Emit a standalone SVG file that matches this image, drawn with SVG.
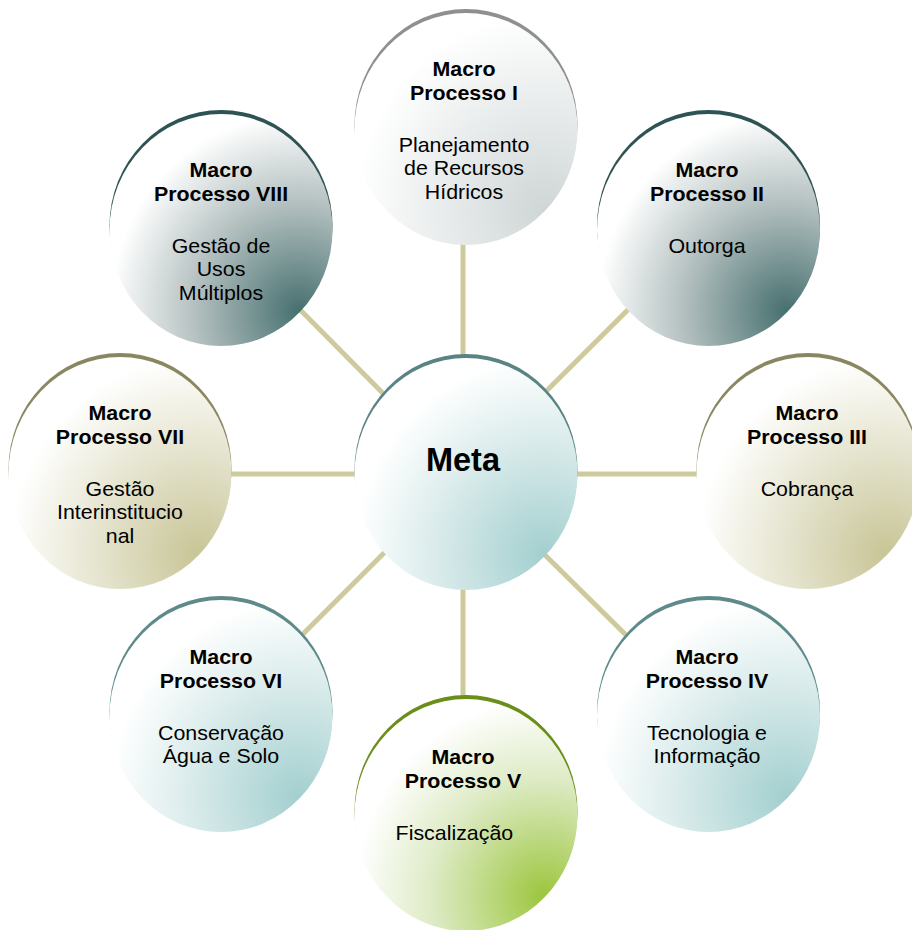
<svg xmlns="http://www.w3.org/2000/svg" width="912" height="930" viewBox="0 0 912 930">
<style>
.t{font-family:"Liberation Sans",Arial,sans-serif;font-size:19.8px;fill:#000;text-anchor:middle}
.b{font-weight:bold}
.meta{font-family:"Liberation Sans",Arial,sans-serif;font-size:32.5px;font-weight:bold;text-anchor:middle}
.con line{stroke:#cdcb9b;stroke-width:5}
</style>
<defs>
<radialGradient id="gMeta" cx="0.85" cy="0.85" r="0.85"><stop offset="0" stop-color="#a3cfcf"/><stop offset="0.6" stop-color="#dcecec"/><stop offset="1" stop-color="#ffffff"/></radialGradient>
<radialGradient id="gGrey" cx="0.85" cy="0.85" r="0.85"><stop offset="0" stop-color="#cfd6d6"/><stop offset="1" stop-color="#ffffff"/></radialGradient>
<radialGradient id="gDark" cx="0.85" cy="0.85" r="0.85"><stop offset="0" stop-color="#46706f"/><stop offset="0.55" stop-color="#b4c0c0"/><stop offset="1" stop-color="#ffffff"/></radialGradient>
<radialGradient id="gOlive" cx="0.85" cy="0.85" r="0.85"><stop offset="0" stop-color="#c8c596"/><stop offset="0.6" stop-color="#e9e8d6"/><stop offset="1" stop-color="#ffffff"/></radialGradient>
<radialGradient id="gTeal" cx="0.85" cy="0.85" r="0.85"><stop offset="0" stop-color="#a3cfcf"/><stop offset="0.6" stop-color="#dcecec"/><stop offset="1" stop-color="#ffffff"/></radialGradient>
<radialGradient id="gGreen" cx="0.85" cy="0.85" r="0.85"><stop offset="0" stop-color="#9cc63e"/><stop offset="0.6" stop-color="#deebc6"/><stop offset="1" stop-color="#ffffff"/></radialGradient>
</defs>
<rect width="912" height="930" fill="#ffffff"/>
<g id="connectors" class="con">
<line x1="463" y1="474" x2="463" y2="128"/>
<line x1="463" y1="474" x2="708" y2="230"/>
<line x1="463" y1="474" x2="808" y2="474"/>
<line x1="463" y1="474" x2="708" y2="716"/>
<line x1="463" y1="474" x2="463" y2="815"/>
<line x1="463" y1="474" x2="221" y2="716"/>
<line x1="463" y1="474" x2="120" y2="474"/>
<line x1="463" y1="474" x2="221" y2="230"/>
</g>
<g id="meta">
<ellipse cx="466" cy="470" rx="111.5" ry="116" fill="#5a8484"/>
<ellipse cx="466" cy="474" rx="111.5" ry="116" fill="url(#gMeta)"/>
<text class="meta" x="463" y="471">Meta</text>
</g>
<g id="mp1">
<ellipse cx="466" cy="125" rx="111.5" ry="116" fill="#8f8f8f"/>
<ellipse cx="466" cy="129" rx="111.5" ry="116" fill="url(#gGrey)"/>
<g transform="matrix(1.08 0 0 1 464 0)">
<text class="t b" x="0" y="76.5">Macro</text>
<text class="t b" x="0" y="100.5">Processo I</text>
<text class="t" x="0" y="152">Planejamento</text>
<text class="t" x="0" y="175.5">de Recursos</text>
<text class="t" x="0" y="199">Hídricos</text>
</g>
</g>
<g id="mp2">
<ellipse cx="708.5" cy="226" rx="111.5" ry="116" fill="#2f5353"/>
<ellipse cx="708.5" cy="230" rx="111.5" ry="116" fill="url(#gDark)"/>
<g transform="matrix(1.08 0 0 1 707 0)">
<text class="t b" x="0" y="177.5">Macro</text>
<text class="t b" x="0" y="201.5">Processo II</text>
<text class="t" x="0" y="253">Outorga</text>
</g>
</g>
<g id="mp3">
<ellipse cx="808" cy="469" rx="111.5" ry="116" fill="#8a8760"/>
<ellipse cx="808" cy="473" rx="111.5" ry="116" fill="url(#gOlive)"/>
<g transform="matrix(1.08 0 0 1 807 0)">
<text class="t b" x="0" y="420.5">Macro</text>
<text class="t b" x="0" y="444.5">Processo III</text>
<text class="t" x="0" y="496">Cobrança</text>
</g>
</g>
<g id="mp4">
<ellipse cx="708.5" cy="712" rx="111.5" ry="116" fill="#5f8a8a"/>
<ellipse cx="708.5" cy="716" rx="111.5" ry="116" fill="url(#gTeal)"/>
<g transform="matrix(1.08 0 0 1 707 0)">
<text class="t b" x="0" y="664.5">Macro</text>
<text class="t b" x="0" y="688.5">Processo IV</text>
<text class="t" x="0" y="740">Tecnologia e</text>
<text class="t" x="0" y="763.5">Informação</text>
</g>
</g>
<g id="mp5">
<ellipse cx="466" cy="811" rx="111.5" ry="116" fill="#6b8e1a"/>
<ellipse cx="466" cy="815" rx="111.5" ry="116" fill="url(#gGreen)"/>
<g transform="matrix(1.08 0 0 1 463 0)">
<text class="t b" x="0" y="764.5">Macro</text>
<text class="t b" x="0" y="788.5">Processo V</text>
<text class="t" x="-8" y="840">Fiscalização</text>
</g>
</g>
<g id="mp6">
<ellipse cx="221" cy="712" rx="111.5" ry="116" fill="#5f8a8a"/>
<ellipse cx="221" cy="716" rx="111.5" ry="116" fill="url(#gTeal)"/>
<g transform="matrix(1.08 0 0 1 221 0)">
<text class="t b" x="0" y="664.5">Macro</text>
<text class="t b" x="0" y="688.5">Processo VI</text>
<text class="t" x="0" y="740">Conservação</text>
<text class="t" x="0" y="763.5">Água e Solo</text>
</g>
</g>
<g id="mp7">
<ellipse cx="120" cy="469" rx="111.5" ry="116" fill="#8a8760"/>
<ellipse cx="120" cy="473" rx="111.5" ry="116" fill="url(#gOlive)"/>
<g transform="matrix(1.08 0 0 1 120 0)">
<text class="t b" x="0" y="420.5">Macro</text>
<text class="t b" x="0" y="444.5">Processo VII</text>
<text class="t" x="0" y="496">Gestão</text>
<text class="t" x="0" y="519.5">Interinstitucio</text>
<text class="t" x="0" y="543">nal</text>
</g>
</g>
<g id="mp8">
<ellipse cx="221" cy="226" rx="111.5" ry="116" fill="#2f5353"/>
<ellipse cx="221" cy="230" rx="111.5" ry="116" fill="url(#gDark)"/>
<g transform="matrix(1.08 0 0 1 221 0)">
<text class="t b" x="0" y="177.5">Macro</text>
<text class="t b" x="0" y="201.5">Processo VIII</text>
<text class="t" x="0" y="253">Gestão de</text>
<text class="t" x="0" y="276.5">Usos</text>
<text class="t" x="0" y="300">Múltiplos</text>
</g>
</g>
</svg>
